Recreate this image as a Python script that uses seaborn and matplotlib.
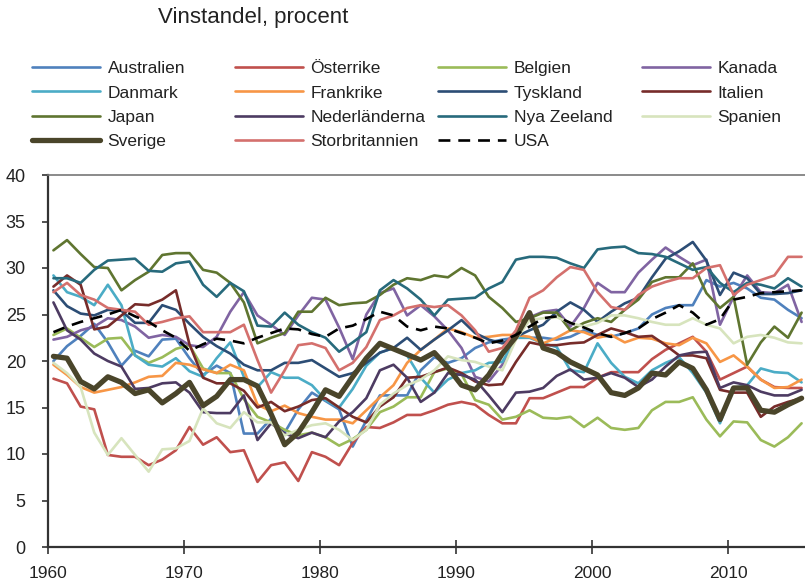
import numpy as np
import pandas as pd
import matplotlib
matplotlib.use("Agg")
import matplotlib.pyplot as plt
import seaborn as sns

years = list(range(1960, 2016))

australien = [20.0, 21.6, 22.7, 24.0, 22.0, 19.5, 21.1, 20.5, 22.3, 22.4,
              20.3, 18.5, 19.5, 18.7, 12.2, 12.2, 13.8, 12.3, 14.8, 16.6,
              15.7, 14.8, 10.8, 13.6, 16.3, 16.3, 16.3, 19.0, 20.4, 19.8,
              20.3, 21.4, 22.0, 22.3, 22.5, 22.5, 22.5, 22.3, 22.6, 23.3,
              22.8, 22.6, 23.0, 23.5, 25.0, 25.7, 26.0, 26.0, 28.7, 28.0,
              28.4, 27.8, 26.8, 26.6, 25.5, 24.6]
osterrike = [18.1, 17.6, 15.1, 14.8, 9.9, 9.7, 9.7, 8.8, 9.4, 10.4,
             12.9, 11.0, 11.8, 10.2, 10.4, 7.0, 8.8, 9.1, 7.1, 10.2,
             9.7, 8.8, 11.2, 12.9, 12.8, 13.4, 14.2, 14.2, 14.7, 15.3,
             15.6, 15.3, 14.2, 13.3, 13.3, 16.0, 16.0, 16.6, 17.2, 17.2,
             18.2, 18.8, 18.8, 18.8, 20.2, 21.2, 21.9, 22.6, 21.0, 18.0,
             18.7, 19.4, 18.0, 17.2, 17.1, 17.1]
belgien = [22.8, 23.5, 22.5, 21.5, 22.4, 22.5, 20.6, 19.8, 20.4, 21.3,
           21.7, 19.2, 18.7, 18.7, 15.9, 14.0, 13.4, 12.6, 12.0, 12.3,
           11.8, 10.9, 11.6, 12.6, 14.5, 15.1, 16.1, 16.1, 18.8, 19.2,
           18.6, 15.8, 15.3, 13.7, 14.0, 14.7, 13.9, 13.8, 14.0, 12.9,
           13.9, 12.8, 12.6, 12.8, 14.7, 15.6, 15.6, 16.1, 13.7, 11.9,
           13.5, 13.4, 11.5, 10.8, 11.8, 13.3]
kanada = [22.3, 22.6, 23.3, 23.7, 24.6, 24.4, 23.7, 22.5, 22.8, 22.6,
          21.7, 21.5, 22.6, 25.3, 27.4, 24.9, 23.9, 22.8, 24.9, 26.8,
          26.6, 23.6, 20.2, 25.0, 27.3, 27.8, 24.9, 26.0, 24.8, 23.3,
          21.4, 18.3, 17.8, 19.6, 22.5, 24.7, 25.3, 25.5, 23.7, 25.7,
          28.4, 27.4, 27.4, 29.5, 30.9, 32.2, 31.2, 30.3, 30.9, 23.9,
          26.9, 29.2, 27.4, 27.3, 28.2, 24.2]
danmark = [29.2, 27.4, 26.9, 26.0, 28.2, 26.0, 20.6, 19.6, 19.4, 20.3,
           18.9, 18.3, 20.3, 22.0, 18.3, 17.2, 18.8, 18.2, 18.2, 17.4,
           15.8, 15.0, 17.0, 19.5, 20.9, 21.4, 20.6, 18.2, 16.6, 18.0,
           18.7, 19.0, 19.8, 19.9, 22.5, 22.5, 21.9, 21.5, 19.0, 18.8,
           21.9, 19.8, 18.3, 17.6, 19.0, 19.8, 20.4, 18.7, 16.6, 13.3,
           17.1, 17.4, 19.2, 18.8, 18.7, 17.7]
frankrike = [19.6, 18.5, 17.2, 16.6, 16.9, 17.2, 17.7, 18.3, 18.4, 19.8,
             19.6, 19.1, 18.7, 19.6, 19.0, 15.3, 14.6, 15.2, 14.4, 14.0,
             13.7, 13.7, 13.3, 14.7, 16.1, 17.4, 19.8, 21.2, 22.3, 23.5,
             23.1, 22.5, 22.6, 22.8, 22.8, 22.6, 21.9, 22.5, 23.3, 23.1,
             22.5, 22.8, 22.0, 22.5, 22.4, 21.9, 21.7, 22.5, 21.9, 19.9,
             20.6, 19.4, 18.0, 17.1, 17.2, 18.0]
tyskland = [27.6, 25.9, 25.1, 24.9, 25.5, 25.4, 24.1, 24.1, 26.0, 25.5,
            24.0, 22.6, 21.6, 20.8, 19.6, 19.0, 19.0, 19.8, 19.8, 20.1,
            19.2, 18.3, 18.7, 19.8, 20.9, 21.4, 22.5, 21.2, 22.3, 23.3,
            24.4, 23.0, 22.3, 21.9, 22.6, 23.3, 23.9, 25.3, 26.3, 25.5,
            24.2, 25.3, 26.2, 26.8, 29.0, 31.0, 31.8, 32.8, 30.8, 27.1,
            29.5, 28.9, 27.2, 27.2, 27.3, 27.6]
italien = [28.0, 29.2, 28.2, 23.4, 23.7, 24.9, 26.1, 26.0, 26.6, 27.6,
           21.8, 18.2, 17.6, 17.6, 16.8, 15.0, 15.6, 14.6, 15.1, 15.8,
           16.0, 15.0, 14.0, 13.4, 15.1, 16.1, 18.2, 18.3, 18.8, 19.3,
           18.7, 17.8, 17.4, 17.5, 19.9, 22.0, 21.7, 21.7, 21.9, 22.0,
           22.8, 23.5, 23.1, 22.6, 22.7, 21.7, 20.6, 20.6, 20.3, 16.9,
           16.6, 16.6, 14.0, 15.1, 15.6, 16.0]
japan = [31.9, 33.0, 31.5, 30.1, 30.0, 27.6, 28.7, 29.6, 31.4, 31.6,
         31.6, 29.8, 29.5, 28.4, 26.3, 21.9, 22.5, 23.0, 25.3, 25.3,
         26.8, 26.0, 26.2, 26.3, 27.1, 28.2, 28.9, 28.7, 29.2, 29.0,
         30.0, 29.2, 26.9, 25.7, 24.2, 24.6, 25.2, 25.2, 23.3, 24.1,
         24.6, 24.2, 25.5, 26.6, 28.5, 29.0, 29.0, 30.5, 27.3, 25.7,
         26.9, 19.6, 22.0, 23.7, 22.5, 25.2]
nederlanderna = [26.3, 23.3, 22.3, 20.8, 20.0, 19.4, 17.0, 17.1, 17.6, 17.7,
                 16.6, 14.5, 14.4, 14.4, 16.3, 11.5, 13.3, 12.2, 11.7, 12.3,
                 11.8, 13.5, 14.5, 16.0, 19.0, 19.6, 18.2, 15.6, 16.6, 18.7,
                 18.5, 18.0, 16.3, 14.5, 16.6, 16.7, 17.1, 18.4, 19.1, 18.0,
                 18.2, 18.7, 18.2, 17.2, 18.0, 19.4, 20.6, 20.9, 21.0, 17.1,
                 17.7, 17.4, 16.7, 16.3, 16.3, 16.9]
nya_zeeland = [28.9, 28.9, 28.4, 29.8, 30.8, 30.9, 31.0, 29.7, 29.6, 30.5,
               30.7, 28.2, 26.9, 28.4, 27.5, 23.8, 23.7, 25.2, 23.9, 23.1,
               22.5, 21.0, 22.0, 23.1, 27.6, 28.7, 27.8, 26.6, 24.9, 26.6,
               26.7, 26.8, 27.8, 28.5, 30.9, 31.2, 31.2, 31.1, 30.5, 30.0,
               32.0, 32.2, 32.3, 31.6, 31.5, 31.2, 30.5, 29.8, 30.1, 28.4,
               27.4, 28.4, 28.2, 27.8, 28.9, 28.0]
spanien = [19.8, 18.7, 17.2, 12.3, 9.9, 11.7, 9.9, 8.1, 10.5, 10.6,
           11.4, 14.9, 13.3, 12.8, 14.5, 13.4, 13.4, 12.0, 12.6, 13.1,
           13.3, 12.6, 11.5, 12.6, 15.3, 16.5, 17.4, 18.0, 19.0, 20.5,
           20.1, 19.9, 19.4, 19.0, 22.3, 24.4, 24.6, 24.7, 24.1, 23.7,
           24.1, 24.9, 24.9, 24.6, 24.2, 23.9, 23.9, 24.6, 23.9, 23.5,
           21.9, 22.6, 22.8, 22.5, 22.0, 21.9]
sverige = [20.5, 20.3, 17.8, 17.0, 18.3, 17.7, 16.5, 16.9, 15.5, 16.5,
           17.7, 15.2, 16.2, 18.0, 18.0, 17.3, 14.3, 11.0, 12.3, 14.5,
           16.9, 16.2, 18.3, 20.3, 21.9, 21.3, 20.7, 20.1, 20.9, 19.3,
           17.4, 16.9, 18.5, 20.8, 22.6, 25.2, 21.4, 20.9, 19.9, 19.2,
           18.5, 16.6, 16.3, 17.1, 18.7, 18.5, 19.9, 19.2, 16.9, 13.7,
           17.1, 17.1, 14.7, 14.5, 15.3, 16.0]
storbritannien = [27.4, 28.4, 27.1, 26.6, 25.7, 25.5, 25.3, 23.9, 24.2, 24.6,
                  24.8, 23.1, 23.1, 23.1, 23.9, 20.1, 16.6, 19.0, 21.7, 21.9,
                  21.4, 19.0, 19.8, 21.5, 24.4, 24.9, 25.7, 26.0, 25.8, 26.0,
                  24.9, 23.3, 21.0, 21.4, 23.3, 26.8, 27.6, 29.0, 30.1, 29.8,
                  27.4, 25.8, 25.5, 27.1, 28.0, 28.5, 28.9, 28.9, 30.0, 30.3,
                  27.1, 28.2, 28.7, 29.2, 31.2, 31.2]
usa = [23.1, 23.7, 24.2, 24.6, 25.0, 25.5, 24.8, 24.2, 23.3, 22.5,
       21.1, 21.8, 22.4, 22.2, 21.9, 22.5, 23.0, 23.5, 23.4, 22.9,
       22.6, 23.5, 23.8, 24.5, 25.3, 24.9, 23.7, 23.3, 23.7, 23.5,
       23.0, 22.5, 21.9, 22.2, 22.8, 23.7, 24.6, 24.8, 24.1, 23.6,
       23.0, 22.6, 23.0, 23.5, 24.5, 25.2, 26.0, 25.2, 23.9, 24.5,
       26.6, 26.9, 27.3, 27.4, 27.5, 27.6]

# legend order (row by row, four columns)
countries = ["Australien", "Österrike", "Belgien", "Kanada",
             "Danmark", "Frankrike", "Tyskland", "Italien",
             "Japan", "Nederländerna", "Nya Zeeland", "Spanien",
             "Sverige", "Storbritannien", "USA"]
series = [australien, osterrike, belgien, kanada,
          danmark, frankrike, tyskland, italien,
          japan, nederlanderna, nya_zeeland, spanien,
          sverige, storbritannien, usa]
colors = ["#4f81bd", "#c0504d", "#9bbb59", "#8064a2",
          "#4bacc6", "#f79646", "#2c4d75", "#772c2a",
          "#5f7530", "#4d3b62", "#276a7c", "#d7e4bd",
          "#4a452a", "#d4706d", "#000000"]

sns.set_style("white")
plt.rcParams["font.family"] = ["Liberation Sans", "DejaVu Sans"]

fig = plt.figure(figsize=(8.05, 5.83), dpi=100)
ax = fig.add_axes([48 / 805, 1 - 547 / 583, 1 - 48 / 805, (547 - 175) / 583])

handles = {}
for name, vals, col in zip(countries, series, colors):
    lw = 1.9
    if name == "Sverige":
        lw = 3.8
    sns.lineplot(x=years, y=vals, ax=ax, color=col, linewidth=lw, label=name)
    line = ax.get_lines()[-1]
    if name == "USA":
        line.set_dashes((4.5, 3))
    handles[name] = line
ax.get_legend().remove()

ax.set_xlim(1959.6, 2015.25)
ax.set_ylim(0, 40)
ax.set_yticks(range(0, 41, 5))
ax.set_xticks([y - 0.4 for y in range(1960, 2016, 10)])
ax.set_xticklabels([str(y) for y in range(1960, 2016, 10)])
ax.set_xlabel("")
ax.set_ylabel("")

for s in ["left", "bottom"]:
    ax.spines[s].set_color("#333333")
    ax.spines[s].set_linewidth(1.6)
ax.spines["top"].set_color("#777777")
ax.spines["top"].set_linewidth(1.2)
ax.spines["right"].set_visible(False)

ax.tick_params(axis="y", direction="out", length=4, width=1.2, color="#333333",
               pad=12, labelsize=13, left=True, labelcolor="#222222")
ax.tick_params(axis="x", direction="inout", length=10, width=1.2, color="#333333",
               pad=9, labelsize=12.5, bottom=True, labelcolor="#222222")

fig.text(158 / 805, 1 - 17 / 583, "Vinstandel, procent", fontsize=16,
         color="#222222", va="center")

col_x = [32, 235, 438, 642]
for c in range(4):
    names = countries[c::4]
    leg = fig.legend([handles[n] for n in names], names, loc="upper left",
                     bbox_to_anchor=(col_x[c] / 805, 1 - 61 / 583),
                     frameon=False, fontsize=12.5, handlelength=3.9,
                     handletextpad=0.45, labelspacing=0.53, borderpad=0,
                     borderaxespad=0)
    for t in leg.get_texts():
        t.set_color("#222222")

fig.savefig("out.png", dpi=100)
